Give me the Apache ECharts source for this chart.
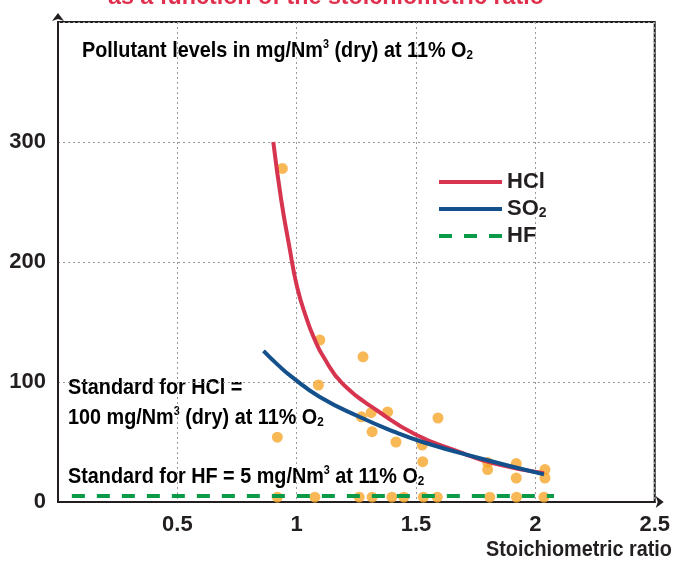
<!DOCTYPE html>
<html><head><meta charset="utf-8">
<script src="https://cdn.jsdelivr.net/npm/echarts@6/dist/echarts.min.js"></script>
<style>html,body{margin:0;padding:0;background:#fff}#c{width:673px;height:563px}</style>
</head><body><div id="c"></div>
<script>
const FONT = "'Liberation Sans', Arial, sans-serif";
const xTicks = [0.5, 1, 1.5, 2, 2.5];
const yTicks = [0, 100, 200, 300];
const hclX = [0.902, 0.935, 0.969, 1.002, 1.043, 1.072, 1.112, 1.195, 1.346, 1.500, 1.664, 1.829, 2.036];
const hclY = [300, 252, 213, 179, 152, 137, 121, 98, 75, 56, 43, 32, 24];
const so2X = [0.861, 0.920, 0.981, 1.097, 1.262, 1.416, 1.527, 1.747, 2.036];
const so2Y = [126, 114.5, 104, 87.5, 71, 58, 50, 37.5, 23];
const hfX = [0.058, 2.078];
const hfY = [5, 5];
const dotX = [0.940, 1.097, 1.278, 1.091, 0.919, 1.271, 1.312, 1.381, 1.316, 1.416, 1.526, 1.592, 1.528, 1.80, 1.80, 1.92, 1.92, 2.04, 2.04,
              0.919, 1.076, 1.262, 1.316, 1.399, 1.449, 1.531, 1.589, 1.809, 1.921, 2.036];
const dotY = [278, 135, 121, 97.5, 54, 71, 74.4, 75, 58.6, 50, 47.5, 70, 33.6, 33, 27, 32, 20, 27, 20,
              4, 4, 4, 4, 4, 4, 4, 4, 4, 4, 4];

const zip = (a, b) => a.map((v, i) => [v, b[i]]);
const ink = '#231f20';
const chart = echarts.init(document.getElementById('c'));
const rich = {
  b: {fontFamily: FONT, fontWeight: 'bold', fontSize: 22, color: ink},
  sup: {fontFamily: FONT, fontWeight: 'bold', fontSize: 12, color: ink, verticalAlign: 'top'},
  sub: {fontFamily: FONT, fontWeight: 'bold', fontSize: 13, color: ink, verticalAlign: 'bottom', padding: [10, 0, 0, 0]}
};
const SX = 0.9;
chart.setOption({
  animation: false,
  grid: {left: 58, right: 11, top: 22, bottom: 61, show: true, borderColor: ink, borderWidth: 2},
  xAxis: {
    type: 'value', min: 0, max: 2.5, interval: 0.5,
    axisLine: {lineStyle: {color: ink, width: 2}, symbol: ['none', 'arrow'], symbolSize: [9, 8], symbolOffset: [0, 9]},
    axisTick: {show: false},
    splitLine: {lineStyle: {color: '#999', type: [2, 3], width: 1}},
    axisLabel: {margin: 12, color: ink, fontFamily: FONT, fontWeight: 'bold', fontSize: 22,
      formatter: v => xTicks.includes(v) ? String(v) : ''}
  },
  yAxis: {
    type: 'value', min: 0, max: 400, interval: 100,
    axisLine: {lineStyle: {color: ink, width: 2}, symbol: ['none', 'arrow'], symbolSize: [9, 8], symbolOffset: [0, 9]},
    axisTick: {show: false},
    splitLine: {lineStyle: {color: '#999', type: [2, 3], width: 1}},
    axisLabel: {margin: 12, color: ink, fontFamily: FONT, fontWeight: 'bold', fontSize: 22,
      formatter: v => yTicks.includes(v) ? String(v) : ''}
  },
  legend: {
    orient: 'vertical', left: 432, top: 166, itemWidth: 63, itemHeight: 6, itemGap: 5,
    itemStyle: {opacity: 0},
    lineStyle: {width: 4},
    data: [{name: 'HCl'}, {name: 'SO2'}, {name: 'HF', lineStyle: {width: 4, type: [13, 12]}}],
    formatter: n => n === 'SO2' ? '{b|SO}{sub|2}' : '{b|' + n + '}',
    textStyle: {rich: {
      b: {fontFamily: FONT, fontWeight: 'bold', fontSize: 22, color: ink},
      sub: {fontFamily: FONT, fontWeight: 'bold', fontSize: 14, color: ink, verticalAlign: 'bottom', padding: [8, 0, 0, 0]}
    }}
  },
  graphic: [
    {type: 'text', left: 108, top: -15, scaleX: 0.97, style: {text: 'as a function of the stoichiometric ratio', font: 'bold 24px ' + FONT, fill: '#e0304e'}},
    {type: 'text', left: 82, top: 39, scaleX: SX, style: {text: '{b|Pollutant levels in mg/Nm}{sup|3}{b| (dry) at 11% O}{sub|2}', rich: rich}},
    {type: 'text', left: 68, top: 377, scaleX: SX, style: {text: '{b|Standard for HCl =}', rich: rich}},
    {type: 'text', left: 68, top: 406, scaleX: SX, style: {text: '{b|100 mg/Nm}{sup|3}{b| (dry) at 11% O}{sub|2}', rich: rich}},
    {type: 'text', left: 68, top: 465, scaleX: SX, style: {text: '{b|Standard for HF = 5 mg/Nm}{sup|3}{b| at 11% O}{sub|2}', rich: rich}},
    {type: 'text', left: 486, top: 539, scaleX: SX, style: {text: 'Stoichiometric ratio', font: 'bold 22px ' + FONT, fill: ink}}
  ],
  series: [
    {name: 'dots', type: 'scatter', data: zip(dotX, dotY), symbolSize: 11, itemStyle: {color: '#f7a62c'}, z: 1},
    {name: 'HF', type: 'line', data: zip(hfX, hfY), symbol: 'none', lineStyle: {color: '#0a9a48', width: 4, type: [13, 12]}, itemStyle: {color: '#0a9a48'}, z: 3},
    {name: 'HCl', type: 'line', data: zip(hclX, hclY), symbol: 'none', smooth: true, lineStyle: {color: '#d6344f', width: 4}, itemStyle: {color: '#d6344f'}, z: 4},
    {name: 'SO2', type: 'line', data: zip(so2X, so2Y), symbol: 'none', smooth: true, lineStyle: {color: '#13508c', width: 4}, itemStyle: {color: '#13508c'}, z: 5}
  ]
});
</script></body></html>
